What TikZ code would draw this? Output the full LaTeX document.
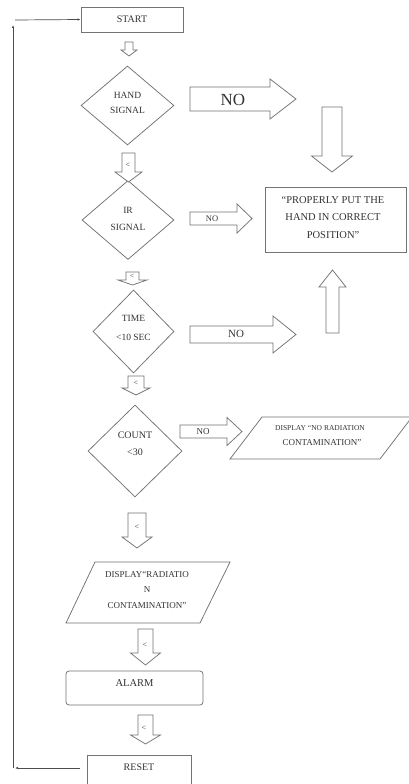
\documentclass[tikz,border=0pt]{standalone}
\usepackage{fontspec}
\setmainfont{Liberation Serif}
\usetikzlibrary{shapes.geometric,arrows.meta}
\newcommand{\vblk}[6]{\draw[blk] ({#1-#5},#2) -- ({#1+#5},#2) -- ({#1+#5},#3) -- ({#1+#6},#3) -- (#1,#4) -- ({#1-#6},#3) -- ({#1-#5},#3) -- cycle;}
\newcommand{\hblk}[6]{\draw[blk] (#2,{#1-#5}) -- (#3,{#1-#5}) -- (#3,{#1-#6}) -- (#4,#1) -- (#3,{#1+#6}) -- (#3,{#1+#5}) -- (#2,{#1+#5}) -- cycle;}
\newcommand{\fs}[2]{\fontsize{#1}{#2}\selectfont}
\begin{document}
\begin{tikzpicture}[x=1pt,y=-1pt,
 blk/.style={draw=black!55,line width=0.75pt,fill=white,line join=miter},
 dec/.style={diamond,draw=black!55,line width=0.75pt,inner sep=0pt},
 box/.style={rectangle,draw=black!55,line width=0.75pt,inner sep=0pt},
 outl/.style={draw=black!55,line width=0.75pt},
 txt/.style={inner sep=0pt,align=center,text=black!80},
 lp/.style={draw=black!70,line width=0.7pt,-{Latex[length=3pt,width=2.4pt]}}]
\useasboundingbox[fill=white] (0,0) rectangle (408,784);

% boxes
\node[box,minimum width=102pt,minimum height=25pt,text=black!80,font=\fs{10}{12}] (start) at (132,19.5) {START};
\node[box,minimum width=141pt,minimum height=65pt] (prop) at (335.5,219.5) {};
\node[txt,font=\fs{10.5}{17.5}] (propT) at (333,217.5) {“PROPERLY PUT THE\\HAND IN CORRECT\\POSITION”};
\node[box,rounded corners=3pt,minimum width=137pt,minimum height=34pt] (alarm) at (134.5,688) {};
\node[txt,font=\fs{10.5}{12}] (alarmT) at (134.5,683) {ALARM};
\node[box,minimum width=104pt,minimum height=40pt] (reset) at (139,775) {};
\node[txt,font=\fs{10}{12}] (resetT) at (139,767) {RESET};

% decisions
\node[dec,minimum width=93pt,minimum height=79pt] (hand) at (127.5,105.5) {};
\node[txt,font=\fs{9.5}{15}] (handT) at (127.5,102.5) {HAND\\SIGNAL};
\node[dec,minimum width=92pt,minimum height=79pt] (ir) at (128,220) {};
\node[txt,font=\fs{9.5}{17}] (irT) at (128,218.5) {IR\\SIGNAL};
\node[dec,minimum width=81pt,minimum height=83pt] (time) at (133.5,331.5) {};
\node[txt,font=\fs{9.5}{19}] (timeT) at (133.5,327.5) {TIME\\<10 SEC};
\node[dec,minimum width=94pt,minimum height=92pt] (count) at (135,451) {};
\node[txt,font=\fs{10}{17}] (countT) at (135,443.5) {COUNT\\<30};

% parallelograms
\draw[outl] (262,417) -- (412,417) -- (380,459) -- (230,459) -- cycle;
\node[txt,font=\fs{7.5}{12}] (noradA) at (320,428) {DISPLAY “NO RADIATION};
\node[txt,font=\fs{9}{12}] (noradB) at (322,443) {CONTAMINATION”};
\draw[outl] (95,562) -- (230,562) -- (200,623) -- (66,623) -- cycle;
\node[txt,font=\fs{9}{15.5}] (radT) at (147,590) {DISPLAY“RADIATIO\\N\\CONTAMINATION”};

% vertical block arrows: cx, ystart, yshaft, ytip, shaft half, head half
\vblk{129}{42}{50}{56}{4}{8}
\vblk{128.5}{153}{172}{182}{6.5}{13.5}
\node[txt,font=\fs{8}{8}] (l1) at (128,165) {<};
\vblk{132.5}{272}{280}{285}{6.5}{14.5}
\node[txt,font=\fs{7.5}{8}] (l2) at (132,276.5) {<};
\vblk{136}{376}{388}{395}{8}{14}
\node[txt,font=\fs{8}{8}] (l3) at (136,383) {<};
\vblk{137}{513}{537}{548}{9}{15}
\node[txt,font=\fs{8}{8}] (l4) at (137,527) {<};
\vblk{145.5}{629}{653}{665}{7.5}{15}
\node[txt,font=\fs{8}{8}] (l5) at (145,645) {<};
\vblk{145.5}{715}{735}{744}{7.5}{15}
\node[txt,font=\fs{8}{8}] (l6) at (144,728) {<};
\vblk{332}{107}{156}{172}{10}{20.5}
\vblk{332.5}{333}{287}{270}{6.5}{13.5}

% horizontal block arrows: cy, xstart, xshaft, xtip, shaft half, head half
\hblk{99}{190}{270}{296}{12}{20}
\node[txt,font=\fs{17}{18}] (no1) at (233,100) {NO};
\hblk{218.5}{190}{237}{252}{6.5}{14.5}
\node[txt,font=\fs{8.5}{10}] (no2) at (212,219) {NO};
\hblk{334.5}{190}{273}{296}{8.5}{18.5}
\node[txt,font=\fs{11}{12}] (no3) at (236,334) {NO};
\hblk{431.5}{180}{227}{242}{6.5}{14}
\node[txt,font=\fs{9}{10}] (no4) at (203,432) {NO};

% loop back
\coordinate (rs) at (80,768);
\coordinate (rl) at (15,768);
\coordinate (bl) at (13,768);
\coordinate (tl) at (13,25);
\coordinate (sl) at (15,20);
\draw[lp] (rs) -- (rl);
\draw[lp] (bl) -- (tl);
\draw[lp] (sl) -- (start.west);
\end{tikzpicture}
\end{document}
